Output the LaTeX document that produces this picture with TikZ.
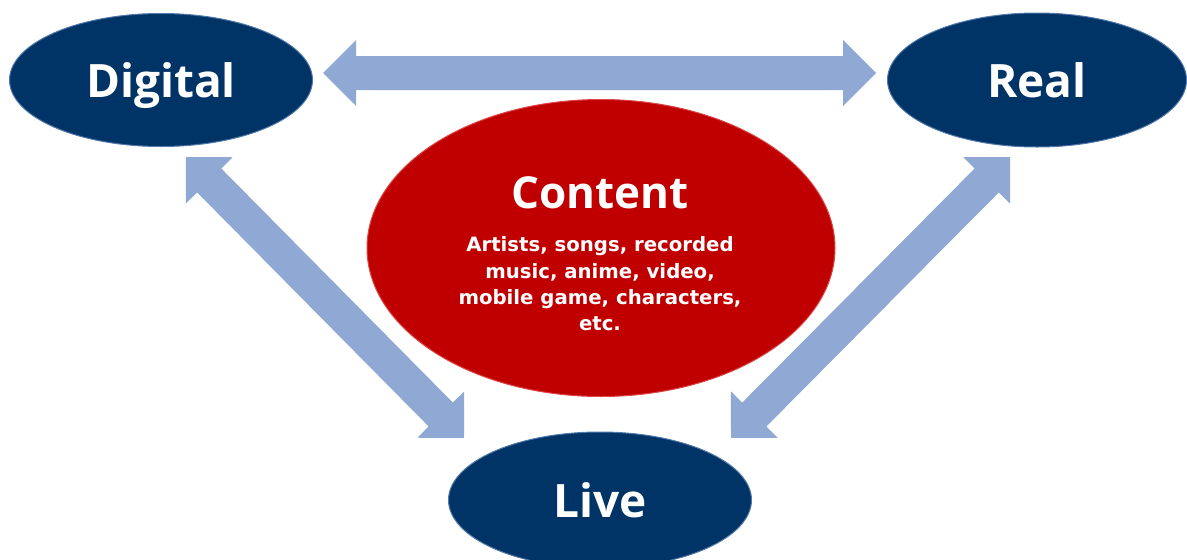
\documentclass[tikz,border=0pt]{standalone}
\usepackage{fontspec}
\setmainfont{Open Sans}
\newfontfamily\smallfont{DejaVu Sans}
\usetikzlibrary{shapes.geometric,calc}
\definecolor{navy}{RGB}{0,51,102}
\definecolor{navyrim}{RGB}{80,120,170}
\definecolor{crimson}{RGB}{192,0,0}
\definecolor{crimsonrim}{RGB}{220,70,70}
\definecolor{arrowblue}{RGB}{143,168,212}
\newcommand\dblarr[2]{%
  \fill[arrowblue] let \p1=($(#2)-(#1)$), \n1={atan2(\y1,\x1)}, \n2={veclen(\x1,\y1)} in
    [shift={(#1)}, rotate=\n1]
    (0,0) -- (33,33) -- (33,17) -- ({\n2-33},17) -- ({\n2-33},33) -- ({\n2},0)
    -- ({\n2-33},-33) -- ({\n2-33},-17) -- (33,-17) -- (33,-33) -- cycle;}
\tikzset{
  blueell/.style={ellipse, fill=navy, draw=navyrim, line width=1pt, inner sep=0pt,
    text=white, text height=34pt, text depth=0pt, font=\bfseries\fontsize{46}{50}\selectfont},
  redell/.style={ellipse, fill=crimson, draw=crimsonrim, line width=1pt, inner sep=0pt},
  bigtxt/.style={text=white, font=\bfseries\fontsize{44}{48}\selectfont, inner sep=0pt},
  smalltxt/.style={text=white, align=center, font=\smallfont\bfseries\fontsize{19.7}{26.3}\selectfont, inner sep=0pt}
}
\begin{document}
\begin{tikzpicture}[x=1pt,y=-1pt]
\useasboundingbox (0,0) rectangle (1187,560);
\clip (0,0) rectangle (1187,560);
% ellipses
\node[blueell, minimum width=303pt, minimum height=133pt] (dig) at (161,80) {Digital};
\node[blueell, minimum width=299pt, minimum height=134pt] (real) at (1037,80) {Real};
\node[blueell, minimum width=303pt, minimum height=136pt] (live) at (600,500) {Live};
\node[redell, minimum width=468pt, minimum height=297pt] (cont) at (601,248) {};
\node[bigtxt] (conttitle) at (600,193) {Content};
\node[smalltxt] (contsub) at (600,284) {Artists, songs, recorded\\music, anime, video,\\mobile game, characters,\\etc.};
% arrow end points
\coordinate (hl) at (323,73);
\coordinate (hr) at (876,73);
\coordinate (dl1) at (186,157);
\coordinate (dl2) at (464,438);
\coordinate (dr1) at (1010,157);
\coordinate (dr2) at (731,438);
\dblarr{hl}{hr}
\dblarr{dl1}{dl2}
\dblarr{dr1}{dr2}
\end{tikzpicture}
\end{document}
